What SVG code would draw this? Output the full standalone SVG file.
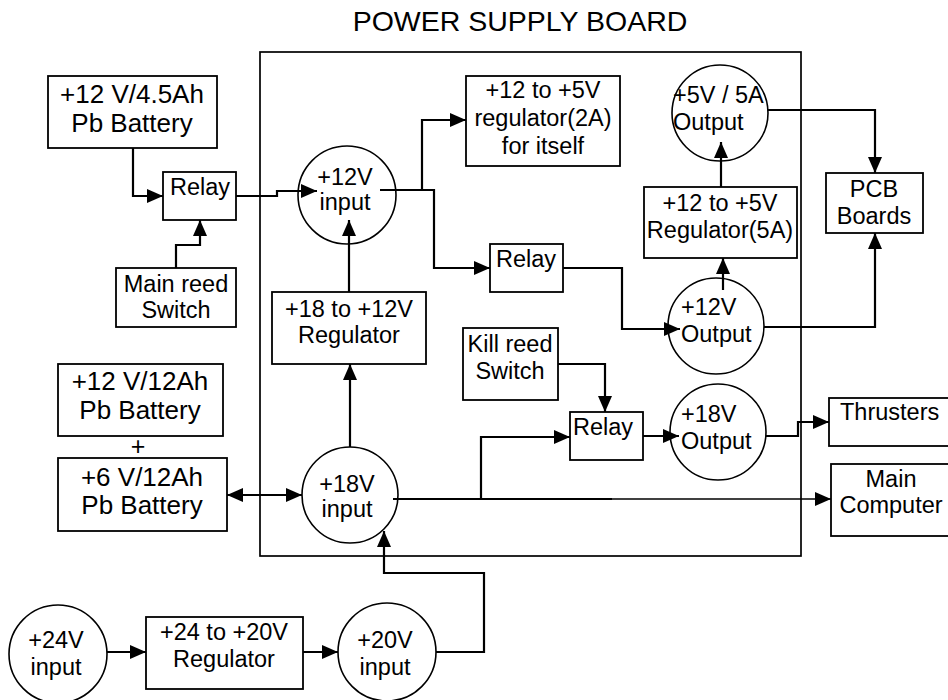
<svg xmlns="http://www.w3.org/2000/svg" width="948" height="700" viewBox="0 0 948 700">
<defs>
<style>
text{font-family:"Liberation Sans",Arial,sans-serif;font-size:23.5px;fill:#000}
.bat{font-size:26px}
.title{font-size:28.5px}
.m{text-anchor:middle}
.box{fill:#fff;stroke:#000;stroke-width:1.8}
.circ{fill:#fff;stroke:#000;stroke-width:1.6}
.board{fill:none;stroke:#000;stroke-width:1.7}
.c{fill:none;stroke:#000;stroke-width:2.2;marker-end:url(#ah)}
.cn{fill:none;stroke:#000;stroke-width:2.2}
</style>
<marker id="ah" markerUnits="userSpaceOnUse" markerWidth="16" markerHeight="14" viewBox="0 0 16 14" refX="16" refY="7" orient="auto-start-reverse">
<path d="M0,0 L16,7 L0,14 z" fill="#000"/>
</marker>
</defs>
<rect width="948" height="700" fill="#fff"/>
<text class="title m" x="520" y="31">POWER SUPPLY BOARD</text>
<rect id="board" class="board" x="260" y="52" width="541" height="504"/>

<g id="connectors">
<path class="c" d="M133,148 V196 H163"/>
<path class="c" d="M176,268 V245 H200 V220"/>
<path class="c" d="M236,196 H277 V191 H317"/>
<path class="c" d="M380,190 H422 V120 H466"/>
<path class="c" d="M422,190 H434 V268 H490"/>
<path class="c" d="M349,292 V220"/>
<path class="c" d="M350,447 V364"/>
<path class="c" d="M563,268 H622 V329 H680"/>
<path class="c" d="M723,290 V258"/>
<path class="c" d="M721,187 V142"/>
<path class="c" d="M768,110 H875 V173"/>
<path class="c" d="M764,327 H875 V233"/>
<path class="c" d="M558,364 H605 V412"/>
<path class="c" d="M643,436 H679"/>
<path class="c" d="M766,436 H798 V422 H829"/>
<path class="cn" d="M393,499 H612"/>
<path class="c" d="M612,499 H831" style="stroke-width:1.6"/>
<path class="c" d="M481,499 V437 H570"/>
<path class="c" d="M227,495 H302" style="marker-start:url(#ah)"/>
<path class="c" d="M107,652 H146"/>
<path class="c" d="M303,652 H338"/>
<path class="c" d="M436,652 H484 V573 H384 V531"/>
</g>

<g id="bat45">
<rect class="box" x="48" y="76" width="169" height="72"/>
<text class="bat m" x="132" y="103">+12 V/4.5Ah</text>
<text class="bat m" x="132" y="132">Pb Battery</text>
</g>
<g id="relay1">
<rect class="box" x="163" y="172" width="73" height="48"/>
<text class="m" x="200" y="195">Relay</text>
</g>
<g id="mainreed">
<rect class="box" x="116" y="268" width="120" height="59"/>
<text class="m" x="176" y="292">Main reed</text>
<text class="m" x="176" y="318">Switch</text>
</g>
<g id="in12">
<circle class="circ" cx="347" cy="195" r="49" style="fill:none"/>
<text class="m" x="345" y="185">+12V</text>
<text class="m" x="345" y="210">input</text>
</g>
<g id="reg2A">
<rect class="box" x="466" y="76" width="154" height="90"/>
<text class="m" x="543" y="98">+12 to +5V</text>
<text class="m" x="543" y="126">regulator(2A)</text>
<text class="m" x="543" y="154">for itself</text>
</g>
<g id="relay2">
<rect class="box" x="490" y="244" width="73" height="48"/>
<text class="m" x="526" y="267">Relay</text>
</g>
<g id="out5">
<circle class="circ" cx="720" cy="113" r="48" style="fill:none"/>
<text x="673" y="103">+5V / 5A</text>
<text x="673" y="130">Output</text>
</g>
<g id="reg5A">
<rect class="box" x="644" y="187" width="153" height="71"/>
<text class="m" x="720" y="211">+12 to +5V</text>
<text class="m" x="720" y="238">Regulator(5A)</text>
</g>
<g id="pcb">
<rect class="box" x="826" y="173" width="97" height="60"/>
<text class="m" x="874" y="197">PCB</text>
<text class="m" x="874" y="224">Boards</text>
</g>
<g id="out12">
<circle class="circ" cx="716" cy="326" r="48" style="fill:none"/>
<text x="681" y="315">+12V</text>
<text x="681" y="342">Output</text>
</g>
<g id="reg18_12">
<rect class="box" x="272" y="292" width="154" height="72"/>
<text class="m" x="349" y="317">+18 to +12V</text>
<text class="m" x="349" y="343">Regulator</text>
</g>
<g id="killreed">
<rect class="box" x="463" y="328" width="95" height="72"/>
<text class="m" x="510" y="352">Kill reed</text>
<text class="m" x="510" y="379">Switch</text>
</g>
<g id="relay3">
<rect class="box" x="570" y="412" width="73" height="48"/>
<text class="m" x="603" y="435">Relay</text>
</g>
<g id="out18">
<circle class="circ" cx="718" cy="432" r="48" style="fill:none"/>
<text x="681" y="422">+18V</text>
<text x="681" y="449">Output</text>
</g>
<g id="thrusters">
<rect class="box" x="829" y="398" width="140" height="48"/>
<text x="840" y="420">Thrusters</text>
</g>
<g id="maincomp">
<rect class="box" x="831" y="464" width="140" height="72"/>
<text class="m" x="891" y="487">Main</text>
<text class="m" x="891" y="513">Computer</text>
</g>
<g id="in18">
<circle class="circ" cx="350" cy="495" r="48" style="fill:none"/>
<text class="m" x="347" y="492">+18V</text>
<text class="m" x="347" y="517">input</text>
</g>
<g id="bat12">
<rect class="box" x="58" y="364" width="165" height="72"/>
<text class="bat m" x="140" y="390">+12 V/12Ah</text>
<text class="bat m" x="140" y="419">Pb Battery</text>
</g>
<text id="plus" class="m" x="138" y="455" style="font-size:25px">+</text>
<g id="bat6">
<rect class="box" x="58" y="458" width="169" height="73"/>
<text class="bat m" x="142" y="486">+6 V/12Ah</text>
<text class="bat m" x="142" y="514">Pb Battery</text>
</g>
<g id="in24">
<circle class="circ" cx="58" cy="654" r="49"/>
<text class="m" x="56" y="648">+24V</text>
<text class="m" x="56" y="675">input</text>
</g>
<g id="reg24">
<rect class="box" x="146" y="617" width="157" height="72"/>
<text class="m" x="224" y="640">+24 to +20V</text>
<text class="m" x="224" y="667">Regulator</text>
</g>
<g id="in20">
<circle class="circ" cx="387" cy="652" r="49"/>
<text class="m" x="385" y="648">+20V</text>
<text class="m" x="385" y="675">input</text>
</g>
</svg>
